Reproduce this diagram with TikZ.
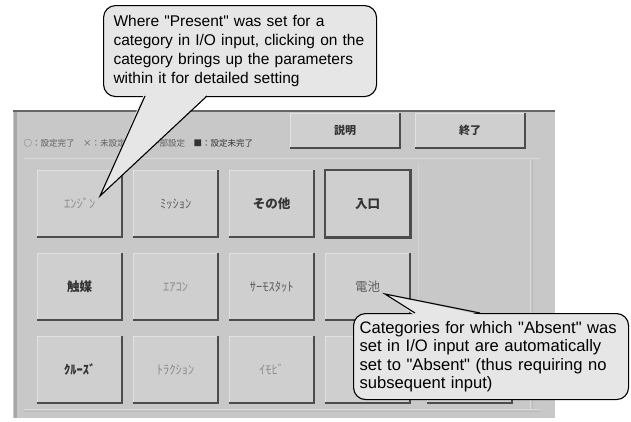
\documentclass[tikz,border=0pt]{standalone}
\usepackage{fontspec}
\setmainfont{Liberation Sans}[Ligatures=TeXOff]
\newfontfamily\jp{Noto Sans CJK JP}
\definecolor{panelgray}{HTML}{C8C8C8}
\definecolor{btngray}{HTML}{CFCFCF}
\definecolor{shadowgray}{HTML}{4C4C4C}
\definecolor{hilite}{HTML}{E2E2E2}
\definecolor{calloutfill}{HTML}{E6E6E6}
\definecolor{txtdark}{HTML}{333333}
\definecolor{txtmid}{HTML}{5E5E5E}
\definecolor{txtfaint}{HTML}{8C8C8C}
\usetikzlibrary{calc}
\tikzset{
  panel/.style={fill=panelgray, draw=none},
  catbtn/.style={anchor=north west, fill=btngray, draw=none, minimum width=85pt, minimum height=67pt, inner sep=0pt, font=\jp\fontsize{12.5}{13}\selectfont},
  topbtn/.style={anchor=north west, fill=btngray, draw=none, minimum width=110pt, minimum height=35pt, inner sep=0pt, font=\jp\bfseries\fontsize{11}{12}\selectfont, text=txtdark},
  btnshadow/.style={draw=shadowgray, line width=2pt},
  btnlight/.style={draw=hilite, line width=1pt},
  callout/.style={anchor=north west, fill=calloutfill, draw=black, line width=1.1pt, rounded corners=12pt, align=left, inner xsep=10pt, inner ysep=0pt, font=\fontsize{15.5}{19}\selectfont},
  tailfill/.style={fill=calloutfill, draw=none},
  tailline/.style={draw=black, line width=1.1pt, line join=miter},
}
\begin{document}
\begin{tikzpicture}[x=1pt,y=-1pt]
\useasboundingbox (0,0) rectangle (631,421);
\fill[white] (0,0) rectangle (631,421);
% panel
\fill[panel] (13,110) rectangle (555,418);
\draw[draw=black!60, line width=2pt] (13,111) -- (555,111);
\draw[draw=black!35, line width=3pt] (15,112) -- (15,418);
\draw[draw=white!85!black, line width=0.8pt] (24,158) -- (540,158);
\draw[draw=white!85!black, line width=0.8pt] (24,409) -- (540,409);
\draw[draw=black!28, line width=0.8pt] (24,411) -- (540,411);
\draw[draw=white!85!black, line width=0.8pt] (530,160) -- (530,409);
\draw[draw=black!28, line width=0.8pt] (532,160) -- (532,409);
\draw[draw=white!82!black, line width=0.6pt] (418,163) -- (418,330);
% status line
\node[anchor=west, font=\jp\fontsize{8.5}{9}\selectfont, text=txtmid] (status) at (20,143) {○：設定完了　×：未設定　△：一部設定　\textcolor{txtdark}{■：設定未完了}};
% top buttons
\node[topbtn] (help) at (290,113) {説明};
\node[topbtn] (quit) at (415,113) {終了};
% category buttons
\node[catbtn, text=txtfaint] (b11) at (37,170) {ｴﾝｼﾞﾝ};
\node[catbtn, text=txtmid] (b12) at (133,170) {ﾐｯｼｮﾝ};
\node[catbtn, text=txtdark, font=\jp\bfseries\fontsize{12.5}{13}\selectfont] (b13) at (229,170) {その他};
\node[catbtn, text=txtdark, font=\jp\bfseries\fontsize{12.5}{13}\selectfont] (b14) at (325,170) {入口};
\node[catbtn, text=txtdark, font=\jp\bfseries\fontsize{12.5}{13}\selectfont] (b21) at (37,253) {触媒};
\node[catbtn, text=txtfaint] (b22) at (133,253) {ｴｱｺﾝ};
\node[catbtn, text=txtmid] (b23) at (229,253) {ｻｰﾓｽﾀｯﾄ};
\node[catbtn, text=txtmid] (b24) at (325,253) {電池};
\node[catbtn, text=txtdark, font=\jp\bfseries\fontsize{12.5}{13}\selectfont] (b31) at (37,336) {ｸﾙｰｽﾞ};
\node[catbtn, text=txtfaint] (b32) at (133,336) {ﾄﾗｸｼｮﾝ};
\node[catbtn, text=txtfaint] (b33) at (229,336) {ｲﾓﾋﾞ};
\node[catbtn] (b34) at (325,336) {};
\node[catbtn] (b35) at (427,336) {};
\foreach \b in {help,quit,b11,b12,b13,b21,b22,b23,b24,b31,b32,b33,b34,b35}{
  \draw[btnlight] (\b.south west) -- (\b.north west) -- (\b.north east);
  \draw[btnshadow] (\b.north east) -- (\b.south east) -- (\b.south west);
}
\draw[btnshadow, line width=2.2pt] (b14.north west) rectangle (b14.south east);
% callout 1
\node[callout, minimum width=273pt, minimum height=91pt, text width=253pt] (c1) at (103,5) {Where "Present" was set for a\\category in I/O input, clicking on the\\category brings up the parameters\\within it for detailed setting};
\coordinate (t1a) at (145,96);
\coordinate (t1b) at (207,96);
\coordinate (t1tip) at (100,196);
\fill[tailfill] ($(t1a)+(-1,-2)$) -- (t1tip) -- ($(t1b)+(1,-2)$) -- cycle;
\draw[tailline] (t1a) -- (t1tip) -- (t1b);
% callout 2
\node[callout, minimum width=275pt, minimum height=86pt, text width=263pt, inner xsep=6pt, font=\fontsize{16.6}{18.3}\selectfont] (c2) at (353,313) {\mbox{Categories for which "Absent" was}\\\mbox{set in I/O input are automatically}\\\mbox{set to "Absent" (thus requiring no}\\\mbox{subsequent input)}};
\coordinate (t2a) at (415,313);
\coordinate (t2b) at (480,313);
\coordinate (t2tip) at (385,294);
\fill[tailfill] ($(t2a)+(-1,2)$) -- (t2tip) -- ($(t2b)+(1,2)$) -- cycle;
\draw[tailline] (t2a) -- (t2tip) -- (t2b);
\end{tikzpicture}
\end{document}
